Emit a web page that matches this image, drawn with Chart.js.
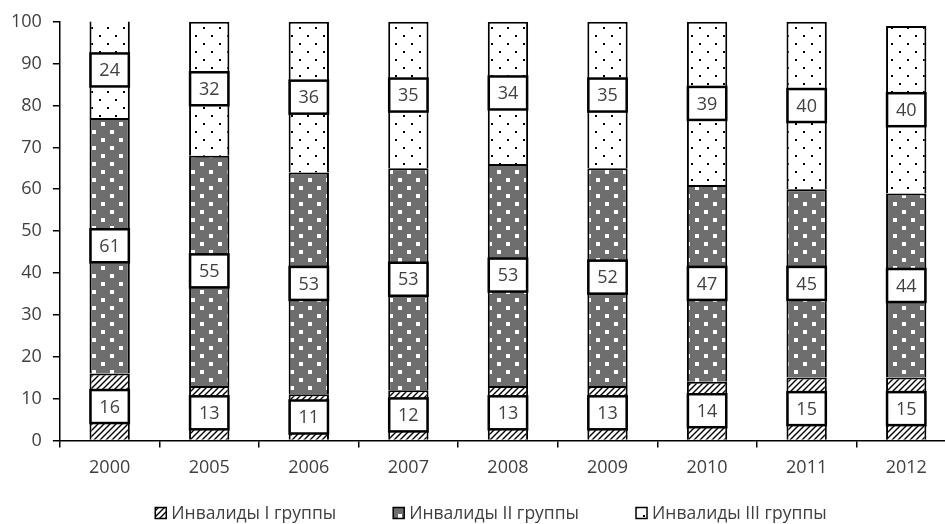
<!DOCTYPE html>
<html>
<head>
<meta charset="utf-8">
<script src="https://cdn.jsdelivr.net/npm/chart.js@4"></script>
<style>
  html, body { margin: 0; padding: 0; background: #fff; overflow: hidden; }
  #wrap { width: 956px; height: 524px; }
</style>
</head>
<body>
<div id="wrap"><canvas id="invChart"></canvas></div>
<script>
var years = ['2000', '2005', '2006', '2007', '2008', '2009', '2010', '2011', '2012'];
var group1 = [16, 13, 11, 12, 13, 13, 14, 15, 15];
var group2 = [61, 55, 53, 53, 53, 52, 47, 45, 44];
var group3 = [24, 32, 36, 35, 34, 35, 39, 40, 40];
var seriesNames = ['Инвалиды I группы', 'Инвалиды II группы', 'Инвалиды III группы'];

var FONT = '"Open Sans", sans-serif';

function makePattern(kind) {
    var c = document.createElement('canvas');
    var g = c.getContext('2d');
    if (kind === 'hatch') {
        c.width = 6; c.height = 6;
        g.fillStyle = '#fff';
        g.fillRect(0, 0, 6, 6);
        g.strokeStyle = '#000';
        g.lineWidth = 1.4;
        g.beginPath();
        g.moveTo(-1, 7); g.lineTo(7, -1);
        g.moveTo(-4, 4); g.lineTo(4, -4);
        g.moveTo(2, 10); g.lineTo(10, 2);
        g.stroke();
    } else if (kind === 'squares') {
        c.width = 18; c.height = 16;
        g.fillStyle = '#6e6e6e';
        g.fillRect(0, 0, 18, 16);
        g.fillStyle = '#fff';
        g.fillRect(2, 2, 4, 4);
        g.fillRect(11, 10, 4, 4);
    } else {
        c.width = 16; c.height = 16;
        g.fillStyle = '#fff';
        g.fillRect(0, 0, 16, 16);
        g.fillStyle = '#000';
        g.fillRect(3, 3, 2, 2);
        g.fillRect(11, 11, 2, 2);
    }
    return g.createPattern(c, 'repeat');
}

var fills = [makePattern('hatch'), makePattern('squares'), makePattern('dots')];

// white boxes with the numbers in the middle of each segment
var boxLabels = {
    id: 'boxLabels',
    afterDatasetsDraw: function(chart) {
        var ctx = chart.ctx;
        ctx.save();
        ctx.font = '18px ' + FONT;
        ctx.textAlign = 'center';
        ctx.textBaseline = 'middle';
        chart.data.datasets.forEach(function(ds, i) {
            var meta = chart.getDatasetMeta(i);
            meta.data.forEach(function(bar, j) {
                var top = Math.max(bar.y, chart.chartArea.top);
                var cy = (top + bar.base) / 2;
                var w = bar.width - 2, h = 33;
                ctx.fillStyle = '#fff';
                ctx.fillRect(bar.x - w / 2, cy - h / 2, w, h);
                ctx.strokeStyle = '#000';
                ctx.lineWidth = 2.5;
                ctx.strokeRect(bar.x - w / 2, cy - h / 2, w, h);
                ctx.fillStyle = '#404040';
                ctx.fillText(String(ds.data[j]), bar.x, cy + 1);
            });
        });
        ctx.restore();
    }
};

// legend row under the axis
var bottomLegend = {
    id: 'bottomLegend',
    afterDraw: function(chart) {
        var ctx = chart.ctx;
        var box = 11, gapText = 5, gapItem = 57, y = 513;
        ctx.save();
        ctx.font = '17.5px ' + FONT;
        ctx.textBaseline = 'middle';
        var widths = seriesNames.map(function(n) { return box + gapText + ctx.measureText(n).width; });
        var total = widths.reduce(function(a, b) { return a + b; }, 0) + gapItem * (widths.length - 1);
        var x = 491 - total / 2;
        seriesNames.forEach(function(name, i) {
            ctx.fillStyle = fills[i];
            ctx.fillRect(x, y - box / 2, box, box);
            ctx.strokeStyle = '#000';
            ctx.lineWidth = 1.5;
            ctx.strokeRect(x, y - box / 2, box, box);
            ctx.fillStyle = '#404040';
            ctx.fillText(name, x + box + gapText, y + 1);
            x += widths[i] + gapItem;
        });
        ctx.restore();
    }
};

var ctx = document.getElementById('invChart').getContext('2d');
var invChart = new Chart(ctx, {
    type: 'bar',
    data: {
        labels: years,
        datasets: [{
            label: seriesNames[0],
            data: group1,
            backgroundColor: fills[0],
            borderColor: '#000',
            borderWidth: 2
        }, {
            label: seriesNames[1],
            data: group2,
            backgroundColor: fills[1],
            borderColor: '#000',
            borderWidth: 2
        }, {
            label: seriesNames[2],
            data: group3,
            backgroundColor: fills[2],
            borderColor: '#000',
            borderWidth: 2
        }]
    },
    options: {
        responsive: true,
        maintainAspectRatio: false,
        animation: false,
        devicePixelRatio: 1,
        layout: { padding: { top: 18, right: 0, left: 0, bottom: 35 } },
        datasets: { bar: { categoryPercentage: 1, barPercentage: 0.405 } },
        plugins: {
            tooltip: { enabled: false },
            legend: { display: false }
        },
        scales: {
            x: {
                stacked: true,
                border: { display: true, color: '#000', width: 1.5 },
                grid: { display: true, drawOnChartArea: false, drawTicks: true, tickLength: 7, color: '#000', lineWidth: 1.5, offset: true },
                ticks: { color: '#404040', font: { family: FONT, size: 18 }, padding: 10 }
            },
            y: {
                stacked: true,
                min: 0,
                max: 100,
                border: { display: true, color: '#000', width: 1.5 },
                grid: { display: true, drawOnChartArea: false, drawTicks: true, tickLength: 7, color: '#000', lineWidth: 1.5 },
                ticks: { stepSize: 10, color: '#404040', font: { family: FONT, size: 18 }, padding: 11 }
            }
        }
    },
    plugins: [boxLabels, bottomLegend]
});
</script>
</body>
</html>
